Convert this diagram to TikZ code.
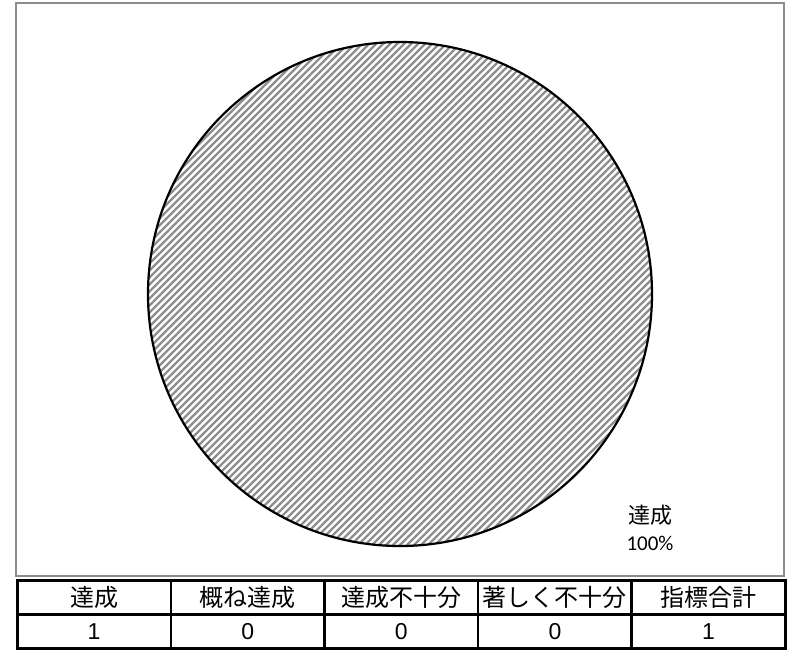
\documentclass[tikz,border=0pt]{standalone}
\usepackage{fontspec}
\setmainfont{Liberation Sans}
\newfontfamily\jpfont{Noto Sans CJK JP}
\newfontfamily\pctfont{Carlito}
\usetikzlibrary{positioning}
\definecolor{framegray}{HTML}{8C8C8C}
\definecolor{hatchgray}{HTML}{8E8E8E}

\begin{document}
\begin{tikzpicture}[x=1pt,y=-1pt]
  \tikzstyle{every node}=[font=\fontsize{23}{25}\selectfont]
  \tikzstyle{frame} = [draw=framegray, line width=1.8pt]
  \tikzstyle{pie} = [draw=black, line width=2.2pt]
  \tikzstyle{hatch} = [draw=hatchgray, line width=2.2pt]
  \tikzstyle{cell} = [draw=black, line width=2.6pt, minimum width=153.6pt, minimum height=34pt, inner sep=0pt, anchor=north west]
  \tikzstyle{head} = [cell, font=\jpfont\fontsize{24}{26}\selectfont]
  \tikzstyle{val} = [cell, font=\fontsize{23}{25}\selectfont]

  \useasboundingbox (0,0) rectangle (794,649);
  \fill[white] (0,0) rectangle (794,649);

  % chart area
  \draw[frame] (16,3) rectangle (784,576);

  % pie (one slice, 100%)
  \coordinate (c) at (400,294);
  \begin{scope}
    \clip (c) circle (252);
    \foreach \k in {0,7,...,1260}
      \draw[hatch] (\k,0) -- ++(-660,660);
  \end{scope}
  \draw[pie] (c) circle (252);

  % data label
  \node (lblname) at (650,515) {\jpfont\fontsize{22}{24}\selectfont 達成};
  \node (lblpct) at (650,543) {\pctfont\fontsize{21}{23}\selectfont 100\%};

  % table
  \node[head] (h1) at (16,579) {達成};
  \node[head] (h2) at (169.6,579) {概ね達成};
  \node[head] (h3) at (323.2,579) {達成不十分};
  \node[head] (h4) at (476.8,579) {著しく不十分};
  \node[head] (h5) at (630.4,579) {指標合計};
  \node[val] (v1) at (16,613) {1};
  \node[val] (v2) at (169.6,613) {0};
  \node[val] (v3) at (323.2,613) {0};
  \node[val] (v4) at (476.8,613) {0};
  \node[val] (v5) at (630.4,613) {1};
\end{tikzpicture}
\end{document}
